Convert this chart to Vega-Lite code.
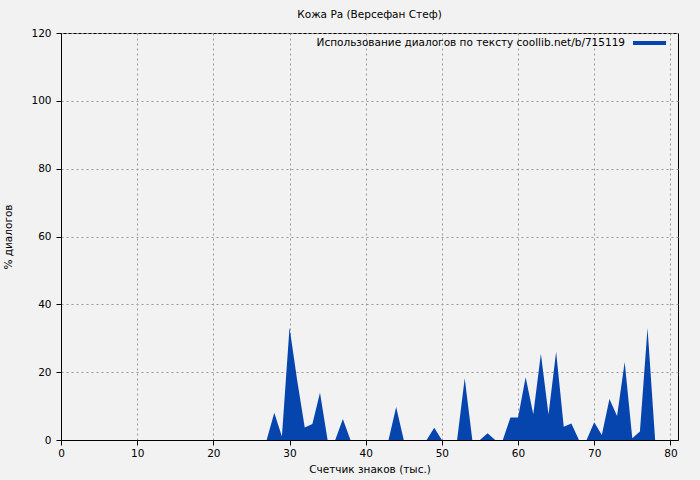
{
  "$schema": "https://vega.github.io/schema/vega-lite/v6.json",
  "width": 617,
  "height": 407,
  "autosize": "none",
  "padding": {"left": 61, "top": 33, "right": 22, "bottom": 40},
  "background": "#f2f2f2",
  "config": {
    "font": "DejaVu Sans",
    "view": {"stroke": "black", "strokeWidth": 1},
    "axis": {
      "labelFont": "DejaVu Sans",
      "titleFont": "DejaVu Sans",
      "labelFontSize": 10.5,
      "titleFontSize": 10.5,
      "titleFontWeight": "normal",
      "labelColor": "black",
      "titleColor": "black",
      "domainColor": "black",
      "tickColor": "black",
      "tickSize": 5,
      "labelFlush": false,
      "gridColor": "#999999",
      "gridDash": [2, 3],
      "gridWidth": 1
    }
  },
  "title": {
    "text": "Кожа Ра (Версефан Стеф)",
    "font": "DejaVu Sans",
    "fontSize": 10.5,
    "fontWeight": "normal",
    "color": "black",
    "anchor": "middle",
    "offset": 4
  },
  "data": {
    "values": [
      {"x": 0, "y": 0}, {"x": 1, "y": 0}, {"x": 2, "y": 0}, {"x": 3, "y": 0}, {"x": 4, "y": 0},
      {"x": 5, "y": 0}, {"x": 6, "y": 0}, {"x": 7, "y": 0}, {"x": 8, "y": 0}, {"x": 9, "y": 0},
      {"x": 10, "y": 0}, {"x": 11, "y": 0}, {"x": 12, "y": 0}, {"x": 13, "y": 0}, {"x": 14, "y": 0},
      {"x": 15, "y": 0}, {"x": 16, "y": 0}, {"x": 17, "y": 0}, {"x": 18, "y": 0}, {"x": 19, "y": 0},
      {"x": 20, "y": 0}, {"x": 21, "y": 0}, {"x": 22, "y": 0}, {"x": 23, "y": 0}, {"x": 24, "y": 0},
      {"x": 25, "y": 0}, {"x": 26, "y": 0}, {"x": 27, "y": 0}, {"x": 28, "y": 8}, {"x": 29, "y": 1},
      {"x": 30, "y": 33.2}, {"x": 31, "y": 17.7}, {"x": 32, "y": 3.7}, {"x": 33, "y": 4.7}, {"x": 34, "y": 13.9},
      {"x": 35, "y": 0}, {"x": 36, "y": 0}, {"x": 37, "y": 6.2}, {"x": 38, "y": 0}, {"x": 39, "y": 0},
      {"x": 40, "y": 0}, {"x": 41, "y": 0}, {"x": 42, "y": 0}, {"x": 43, "y": 0}, {"x": 44, "y": 9.7},
      {"x": 45, "y": 0}, {"x": 46, "y": 0}, {"x": 47, "y": 0}, {"x": 48, "y": 0}, {"x": 49, "y": 3.6},
      {"x": 50, "y": 0}, {"x": 51, "y": 0}, {"x": 52, "y": 0}, {"x": 53, "y": 18.2}, {"x": 54, "y": 0},
      {"x": 55, "y": 0}, {"x": 56, "y": 2}, {"x": 57, "y": 0}, {"x": 58, "y": 0}, {"x": 59, "y": 6.6},
      {"x": 60, "y": 6.6}, {"x": 61, "y": 18.5}, {"x": 62, "y": 7.6}, {"x": 63, "y": 25.4}, {"x": 64, "y": 7.5},
      {"x": 65, "y": 26}, {"x": 66, "y": 3.9}, {"x": 67, "y": 4.9}, {"x": 68, "y": 0}, {"x": 69, "y": 0},
      {"x": 70, "y": 5.2}, {"x": 71, "y": 1.5}, {"x": 72, "y": 12.1}, {"x": 73, "y": 7.1}, {"x": 74, "y": 23},
      {"x": 75, "y": 0.5}, {"x": 76, "y": 2.5}, {"x": 77, "y": 33}, {"x": 78, "y": 0}
    ]
  },
  "mark": {"type": "area", "interpolate": "linear", "color": "#0645ad"},
  "encoding": {
    "x": {
      "field": "x",
      "type": "quantitative",
      "scale": {"domain": [0, 81], "nice": false, "zero": false},
      "axis": {"values": [0, 10, 20, 30, 40, 50, 60, 70, 80], "title": "Счетчик знаков (тыс.)", "titlePadding": 6, "labelPadding": 3}
    },
    "y": {
      "field": "y",
      "type": "quantitative",
      "scale": {"domain": [0, 120], "nice": false},
      "axis": {"values": [0, 20, 40, 60, 80, 100, 120], "title": "% диалогов", "titlePadding": 17, "labelPadding": 5}
    },
    "color": {
      "datum": "Использование диалогов по тексту coollib.net/b/715119",
      "type": "nominal",
      "scale": {"range": ["#0645ad"]},
      "legend": {
        "title": null,
        "orient": "none",
        "legendX": 570,
        "legendY": -8.5,
        "symbolType": "stroke",
        "symbolSize": 1089,
        "symbolStrokeWidth": 4,
        "symbolStrokeColor": "#0645ad",
        "labelAlign": "right",
        "labelOffset": -43,
        "labelFont": "DejaVu Sans",
        "labelFontSize": 10.5,
        "labelColor": "black",
        "labelLimit": 500,
        "padding": 0
      }
    }
  }
}
